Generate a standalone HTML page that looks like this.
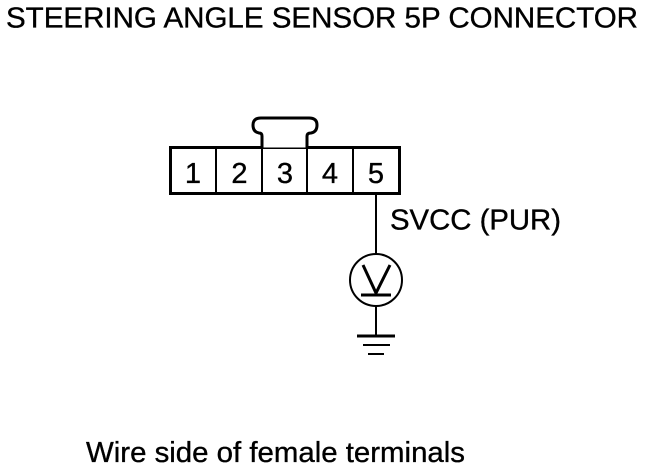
<!DOCTYPE html>
<html>
<head>
<meta charset="utf-8">
<style>
html,body{margin:0;padding:0;background:#fff;width:672px;height:468px;overflow:hidden}
svg{display:block}
text{font-family:"Liberation Sans",Arial,sans-serif;fill:#000;stroke:#000;stroke-width:.35}
</style>
</head>
<body>
<svg width="672" height="468" viewBox="0 0 672 468" xmlns="http://www.w3.org/2000/svg">
<rect width="672" height="468" fill="#fff"/>
<text x="6" y="27.500" font-size="28.500" textLength="632" lengthAdjust="spacingAndGlyphs">STEERING ANGLE SENSOR 5P CONNECTOR</text>
<path d="M262 147V136Q262 133 259 133Q253 132 253 125Q253 118 261 118H309Q317 118 317 125Q317 132 311 133Q307 133 307 136V147" fill="#fff" stroke="#000" stroke-width="3"/>
<rect x="170.500" y="147.500" width="229" height="46" fill="#fff" stroke="#000" stroke-width="3"/>
<rect x="263.500" y="146" width="42" height="1.500" fill="#fff"/>
<path d="M216 148V194M262 148V194M307 148V194M353 148V194" stroke="#000" stroke-width="2" fill="none"/>
<g font-size="29" text-anchor="middle">
<text x="193" y="183">1</text>
<text x="239.500" y="183">2</text>
<text x="285" y="183">3</text>
<text x="330" y="183">4</text>
<text x="376" y="183">5</text>
</g>
<path d="M376 195V254M376 306V336" stroke="#000" stroke-width="2" fill="none"/>
<text x="390" y="229.500" font-size="28.500" textLength="171" lengthAdjust="spacingAndGlyphs">SVCC (PUR)</text>
<circle cx="376" cy="280" r="26" fill="#fff" stroke="#000" stroke-width="2"/>
<path d="M363 265L376 293L390 265" fill="none" stroke="#000" stroke-width="3"/>
<path d="M361 295H391" stroke="#000" stroke-width="3"/>
<path d="M357 336H395" stroke="#000" stroke-width="3"/>
<path d="M363 345H390M368 354H384" stroke="#000" stroke-width="2"/>
<text x="86" y="462" font-size="28.500" textLength="379" lengthAdjust="spacingAndGlyphs">Wire side of female terminals</text>
</svg>
</body>
</html>
